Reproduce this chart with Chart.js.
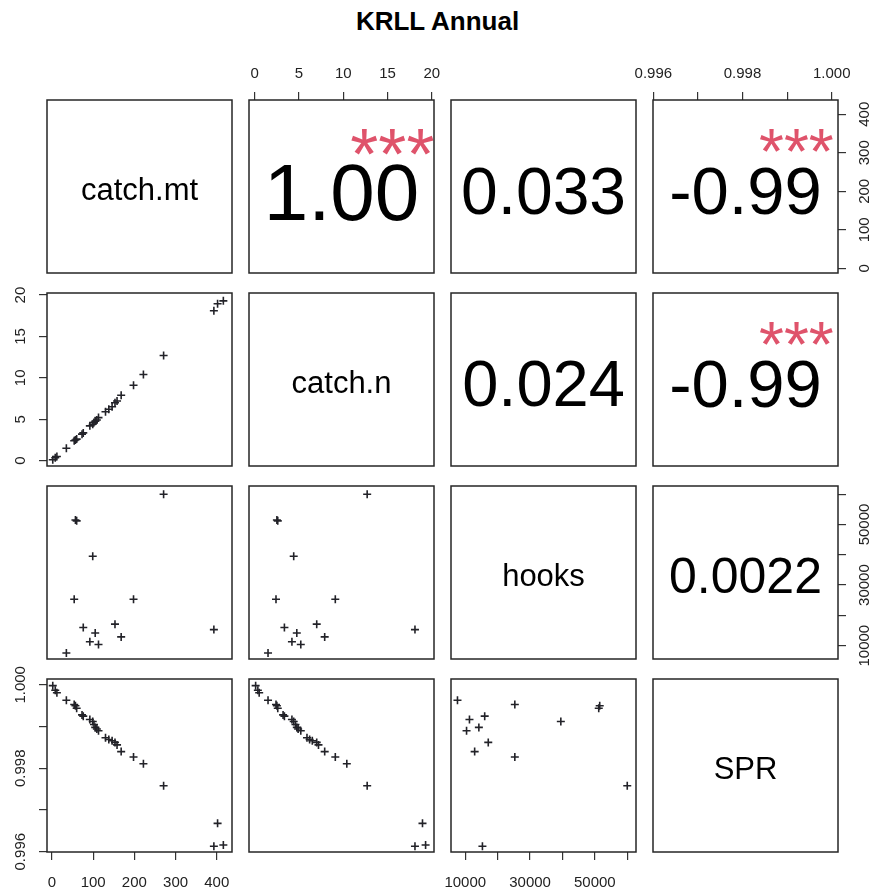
<!DOCTYPE html>
<html>
<head>
<meta charset="utf-8">
<script src="https://cdn.jsdelivr.net/npm/chart.js@4/dist/chart.umd.min.js"></script>
<style>
  html, body { margin: 0; padding: 0; background: #fff; }
  #wrap { position: relative; width: 875px; height: 895px; overflow: hidden; background: #fff; }
  #title { position: absolute; left: 0; top: 8px; width: 875px; text-align: center;
           font: bold 26px "Liberation Sans", Arial, Helvetica, sans-serif; line-height: 26px; color: #000; }
  canvas { position: absolute; }
</style>
</head>
<body>
<div id="wrap">
  <div id="title">KRLL Annual</div>
</div>
<script>
// ---- data -------------------------------------------------------------
const varNames = ['catch.mt', 'catch.n', 'hooks', 'SPR'];

const catchMt = [2, 8, 12, 35, 54, 57, 60, 73, 76, 92, 99, 102, 105, 109, 113,
                 130, 138, 146, 153, 158, 168, 198, 222, 271, 393, 402, 416];
const catchN  = [0.1, 0.35, 0.5, 1.5, 2.4, 2.5, 2.6, 3.2, 3.35, 4.2, 4.4, 4.6, 4.75, 4.9, 5.2,
                 5.9, 6.2, 6.5, 7.0, 7.2, 7.9, 9.1, 10.4, 12.7, 18.1, 18.95, 19.3];
// effort is not recorded for every year
const hooks   = [null, null, null, 7600, 25300, 51500, 51200, null, 16000, 11300, 39500, null, 14200, null, 10400,
                 null, null, null, 17100, null, 12900, 25300, null, 60000, 15300, null, null];
const spr     = [0.99998, 0.99987, 0.99981, 0.99963, 0.99953, 0.99950, 0.99944, 0.99928, 0.99925, 0.99917,
                 0.99912, 0.99905, 0.99898, 0.99894, 0.99890, 0.99873, 0.99869, 0.99866, 0.99862, 0.99856,
                 0.99840, 0.99827, 0.99811, 0.99758, 0.99613, 0.99668, 0.99616];

const catchMtTicks = [0, 100, 200, 300, 400];
const catchMtTickLabels = ['0', '100', '200', '300', '400'];
const catchNTicks = [0, 5, 10, 15, 20];
const catchNTickLabels = ['0', '5', '10', '15', '20'];
const hooksTicks = [10000, 20000, 30000, 40000, 50000, 60000];
const hooksTickLabels = ['10000', '', '30000', '', '50000', ''];
const sprTicks = [0.996, 0.997, 0.998, 0.999, 1.000];
const sprTickLabels = ['0.996', '', '0.998', '', '1.000'];

// upper-triangle correlations, in row order
const corrPairs = [[0, 1], [0, 2], [0, 3], [1, 2], [1, 3], [2, 3]];
const corrLabels = ['1.00', '0.033', '-0.99', '0.024', '-0.99', '0.0022'];
const corrStars = ['***', '', '***', '', '***', ''];

// ---- styling / layout ---------------------------------------------------
const FONT = '"Liberation Sans", Arial, Helvetica, sans-serif';
const corrFontSizes = [80, 66, 67, 65, 67, 50];
const starFontSizes = [72, 0, 64, 0, 64, 0];
const COL_X = [47, 249, 451, 653];
const ROW_Y = [100, 293, 486, 679];
const PW = 185, PH = 173, M = 50;
const PT_COLOR = '#222228';
const STAR_COLOR = '#DF536B';

const vars = [catchMt, catchN, hooks, spr];
const tickValues = [catchMtTicks, catchNTicks, hooksTicks, sprTicks];
const tickLabels = [catchMtTickLabels, catchNTickLabels, hooksTickLabels, sprTickLabels];
const axisRange = [[-12, 437], [-0.65, 20.25], [5600, 62700], [0.995993, 1.00014]];

function axisOptions(v, position, shown, horizontal) {
  return {
    type: 'linear',
    position: position,
    display: shown,
    bounds: 'data',
    min: axisRange[v][0],
    max: axisRange[v][1],
    afterBuildTicks: s => { s.ticks = tickValues[v].map(value => ({ value })); },
    afterFit: s => {
      if (!shown) { s.width = 0; s.height = 0; return; }
      if (horizontal) s.height = M; else s.width = M;
    },
    ticks: {
      display: horizontal,
      autoSkip: false,
      minRotation: 0,
      maxRotation: 0,
      padding: position === 'top' ? 9 : 14,
      font: { family: FONT, size: 15 },
      color: '#222',
      callback: (val, idx) => tickLabels[v][idx]
    },
    grid: { display: true, drawOnChartArea: false, drawTicks: true, tickLength: 8, color: '#333', lineWidth: 1.2 },
    border: { display: false }
  };
}

// frame, panel text and rotated y tick labels
function panelDecor(i, j, yShown, ySide) {
  return {
    id: 'panelDecor',
    afterDatasetsDraw(chart) {
      const ctx = chart.ctx, a = chart.chartArea;
      const cx = (a.left + a.right) / 2, cy = (a.top + a.bottom) / 2;
      ctx.save();
      ctx.fillStyle = '#000';
      ctx.textAlign = 'center';
      ctx.textBaseline = 'alphabetic';
      if (i === j) {
        ctx.font = `31px ${FONT}`;
        ctx.fillText(varNames[i], cx, cy + 13);
      } else if (i < j) {
        const k = corrPairs.findIndex(p => p[0] === i && p[1] === j);
        const fs = corrFontSizes[k];
        ctx.font = `${fs}px ${FONT}`;
        ctx.fillText(corrLabels[k], cx, cy + 0.415 * fs);
        if (corrStars[k]) {
          const sf = starFontSizes[k];
          ctx.save();
          ctx.beginPath();
          ctx.rect(a.left, a.top, a.right - a.left, a.bottom - a.top);
          ctx.clip();
          ctx.fillStyle = STAR_COLOR;
          ctx.font = `${sf}px ${FONT}`;
          const sy = a.top + 0.215 * (a.bottom - a.top);
          ctx.fillText(corrStars[k], a.left + 0.775 * (a.right - a.left), sy + 0.575 * sf);
          ctx.restore();
        }
      }
      ctx.lineWidth = 1.5;
      ctx.strokeStyle = '#262626';
      ctx.strokeRect(a.left, a.top, a.right - a.left, a.bottom - a.top);

      if (yShown) {
        const ys = chart.scales.y;
        const ax = ySide === 'left' ? a.left - 22.5 : a.right + 31;
        ctx.fillStyle = '#222';
        ctx.font = `15px ${FONT}`;
        ys.ticks.forEach((t, k) => {
          const lbl = tickLabels[i][k];
          if (!lbl) return;
          ctx.save();
          ctx.translate(ax, ys.getPixelForValue(t.value));
          ctx.rotate(-Math.PI / 2);
          ctx.textAlign = 'center';
          ctx.textBaseline = 'alphabetic';
          ctx.fillText(lbl, 0, 0);
          ctx.restore();
        });
      }
      ctx.restore();
    }
  };
}

const wrap = document.getElementById('wrap');
for (let i = 0; i < 4; i++) {
  for (let j = 0; j < 4; j++) {
    const canvas = document.createElement('canvas');
    canvas.width = PW + 2 * M;
    canvas.height = PH + 2 * M;
    canvas.style.left = (COL_X[j] - M) + 'px';
    canvas.style.top = (ROW_Y[i] - M) + 'px';
    wrap.appendChild(canvas);

    const showTop = i === 0 && j % 2 === 1;
    const showBottom = i === 3 && j % 2 === 0;
    const showLeft = j === 0 && i % 2 === 1;
    const showRight = j === 3 && i % 2 === 0;

    const points = [];
    if (i > j) {
      for (let k = 0; k < vars[j].length; k++) {
        if (vars[j][k] != null && vars[i][k] != null) points.push({ x: vars[j][k], y: vars[i][k] });
      }
    }

    new Chart(canvas, {
      type: 'scatter',
      data: {
        datasets: [{
          data: points,
          pointStyle: 'cross',
          pointRadius: 4,
          pointHoverRadius: 4,
          pointBorderWidth: 1.6,
          borderColor: PT_COLOR,
          backgroundColor: PT_COLOR
        }]
      },
      options: {
        responsive: false,
        animation: false,
        devicePixelRatio: 1,
        events: [],
        layout: {
          padding: {
            left: showLeft ? 0 : M,
            right: showRight ? 0 : M,
            top: showTop ? 0 : M,
            bottom: showBottom ? 0 : M
          }
        },
        plugins: { legend: { display: false }, tooltip: { enabled: false }, title: { display: false } },
        scales: {
          x: axisOptions(j, showTop ? 'top' : 'bottom', showTop || showBottom, true),
          y: axisOptions(i, showLeft ? 'left' : 'right', showLeft || showRight, false)
        }
      },
      plugins: [panelDecor(i, j, showLeft || showRight, showLeft ? 'left' : 'right')]
    });
  }
}
</script>
</body>
</html>
